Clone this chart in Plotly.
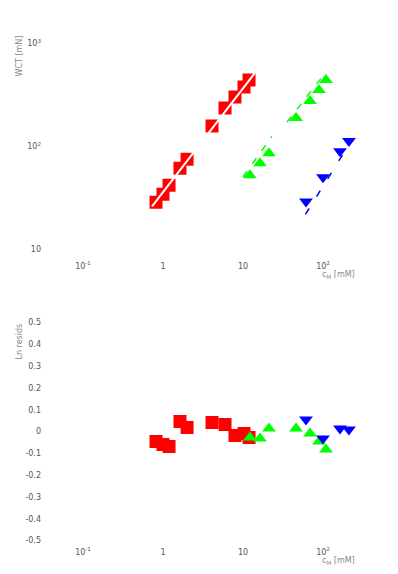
import plotly.graph_objects as go

# ---- data ----
red_x = [0.818, 1.0, 1.19, 1.63, 2.0, 4.1, 5.96, 7.94, 10.3, 11.9]
red_y = [28.7, 34.3, 42.0, 61.5, 75.2, 158, 236, 302, 378, 442]
red_res = [-0.046, -0.060, -0.069, 0.046, 0.018, 0.041, 0.032, -0.018, -0.009, -0.028]

green_x = [12.2, 16.3, 21.1, 46.0, 68.8, 89.0, 109]
green_y = [52.5, 68.7, 86.0, 189, 276, 353, 442]
green_res = [-0.028, -0.032, 0.014, 0.014, -0.009, -0.046, -0.083]

blue_x = [61.3, 100, 163, 211]
blue_y = [29.3, 50.2, 90.0, 113]
blue_res = [0.055, -0.032, 0.014, 0.009]

red_fit_x = [0.73, 14.1]
red_fit_y = [26.2, 518]
green_lo_fit_x = [10.0, 22.9]
green_lo_fit_y = [50.6, 125]
green_hi_fit_x = [35.5, 100]
green_hi_fit_y = [173, 485]
blue_fit_x = [60.3, 214]
blue_fit_y = [21.9, 106]

x_tickvals = [0.1, 1, 10, 100]
x_ticktext = ["10<sup>-1</sup>", "1", "10", "10<sup>2</sup>"]
y_tickvals = [10, 100, 1000]
y_ticktext = ["10", "10<sup>2</sup>", "10<sup>3</sup>"]
r_tickvals = [0.5, 0.4, 0.3, 0.2, 0.1, 0, -0.1, -0.2, -0.3, -0.4, -0.5]
r_ticktext = ["0.5", "0.4", "0.3", "0.2", "0.1", "0", "-0.1", "-0.2", "-0.3", "-0.4", "-0.5"]

RED, GREEN, BLUE = "#ff0000", "#00ff00", "#0000ff"
FONT = dict(family="DejaVu Sans", size=8, color="#555555")

fig = go.Figure()

# top panel markers
fig.add_trace(go.Scatter(x=red_x, y=red_y, mode="markers", xaxis="x", yaxis="y",
                         marker=dict(symbol="square", size=13, color=RED)))
fig.add_trace(go.Scatter(x=green_x, y=green_y, mode="markers", xaxis="x", yaxis="y",
                         marker=dict(symbol="triangle-up", size=12, color=GREEN)))
fig.add_trace(go.Scatter(x=blue_x, y=blue_y, mode="markers", xaxis="x", yaxis="y",
                         marker=dict(symbol="triangle-down", size=12, color=BLUE)))
# fit lines
fig.add_trace(go.Scatter(x=red_fit_x, y=red_fit_y, mode="lines", xaxis="x", yaxis="y",
                         line=dict(color="white", width=2)))
fig.add_trace(go.Scatter(x=green_lo_fit_x, y=green_lo_fit_y, mode="lines", xaxis="x", yaxis="y",
                         line=dict(color=GREEN, width=1.5, dash="7px,9px")))
fig.add_trace(go.Scatter(x=green_hi_fit_x, y=green_hi_fit_y, mode="lines", xaxis="x", yaxis="y",
                         line=dict(color=GREEN, width=1.5, dash="7px,9px")))
fig.add_trace(go.Scatter(x=blue_fit_x, y=blue_fit_y, mode="lines", xaxis="x", yaxis="y",
                         line=dict(color=BLUE, width=1.5, dash="7px,14px")))

# bottom panel residuals
fig.add_trace(go.Scatter(x=red_x, y=red_res, mode="markers", xaxis="x2", yaxis="y2",
                         marker=dict(symbol="square", size=13, color=RED)))
fig.add_trace(go.Scatter(x=green_x, y=green_res, mode="markers", xaxis="x2", yaxis="y2",
                         marker=dict(symbol="triangle-up", size=12, color=GREEN)))
fig.add_trace(go.Scatter(x=blue_x, y=blue_res, mode="markers", xaxis="x2", yaxis="y2",
                         marker=dict(symbol="triangle-down", size=12, color=BLUE)))

W, H = 398, 574
OFFX, OFFY = 6, 6.5  # page offset of the figure in the browser
xdom = [(40 - OFFX) / W, (375 - OFFX) / W]
xrange_log = [-1.5125, 2.675]

common_x = dict(type="log", range=xrange_log, domain=xdom, showgrid=False, zeroline=False,
                showline=False, ticks="", tickvals=x_tickvals, ticktext=x_ticktext,
                tickfont=FONT, ticklabelstandoff=10, automargin=False)

fig.update_layout(
    width=W, height=H,
    margin=dict(l=0, r=0, t=0, b=0, autoexpand=False),
    paper_bgcolor="white", plot_bgcolor="white",
    showlegend=False,
    font=FONT,
    xaxis=dict(common_x, anchor="y"),
    yaxis=dict(type="log", range=[1, 3], domain=[1 - (248 - OFFY) / H, 1 - (42 - OFFY) / H], anchor="x",
               showgrid=False, zeroline=False, showline=False, ticks="", automargin=False,
               tickvals=y_tickvals, ticktext=y_ticktext, tickfont=FONT),
    xaxis2=dict(common_x, anchor="y2", ticklabelstandoff=5),
    yaxis2=dict(range=[-0.5, 0.5], domain=[1 - (539 - OFFY) / H, 1 - (321 - OFFY) / H], anchor="x2",
                showgrid=False, zeroline=False, showline=False, ticks="", automargin=False,
                tickvals=r_tickvals, ticktext=r_ticktext, tickfont=FONT),
)

annots = [
    dict(text="WCT [mN]", x=(17 - OFFX) / W, y=1 - (55 - OFFY) / H, textangle=-90),
    dict(text="Ln resids", x=(17 - OFFX) / W, y=1 - (340 - OFFY) / H, textangle=-90),
    dict(text="c<sub>M</sub> [mM]", x=(336 - OFFX) / W, y=1 - (273 - OFFY) / H, textangle=0),
    dict(text="c<sub>M</sub> [mM]", x=(336 - OFFX) / W, y=1 - (559 - OFFY) / H, textangle=0),
]
for a in annots:
    fig.add_annotation(xref="paper", yref="paper", showarrow=False,
                       xanchor="center", yanchor="middle",
                       font=dict(family="DejaVu Sans", size=8, color="#888888"), **a)

fig.write_html("out.html")
